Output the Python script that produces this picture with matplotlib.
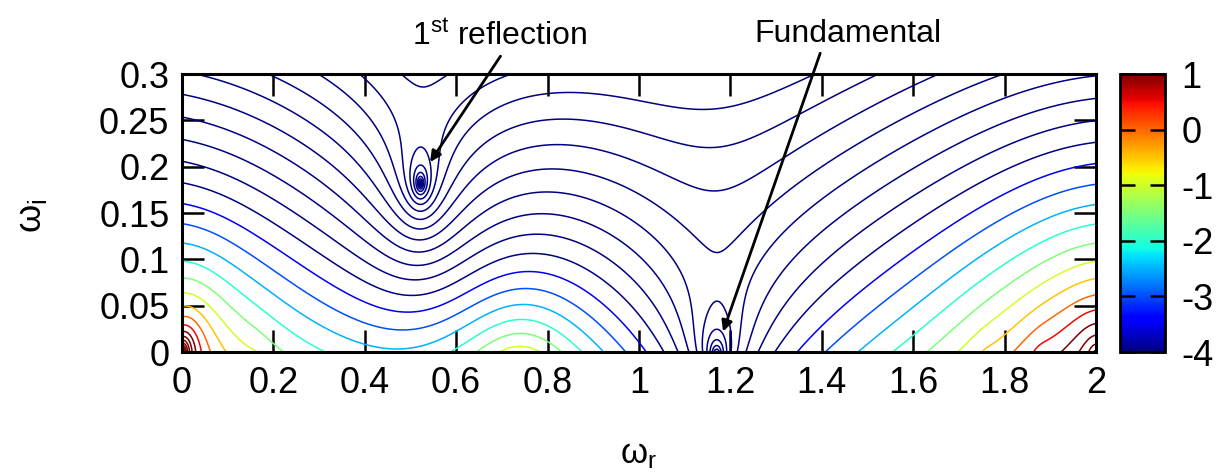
#!/usr/bin/env python
# -*- coding: utf-8 -*-

"""plot.py - Carte de log10|D(w)| dans le plan complexe (w_r, w_i),
avec le mode fondamental et la 1re réflexion."""

# ~~~~~~~~~~~~~~~~~~~~~~~~~ Import des bibliothèques ~~~~~~~~~~~~~~~~~~~~~~~~~ #

import numpy as np
import matplotlib
matplotlib.use("Agg")
import matplotlib.pyplot as plt
from matplotlib.colors import Normalize
from matplotlib.cm import ScalarMappable

# ~~~~~~~~~~~~~~~~~~~~~~~~~~~~~~~~~ Données ~~~~~~~~~~~~~~~~~~~~~~~~~~~~~~~~~~ #

# zéros de D : partie réelle, partie imaginaire, ordre
zeros_wr = [0.522, 1.170, -0.02]
zeros_wi = [0.182, -0.005, -0.02]
zeros_ordre = [2.94, 3.3, 5.0]

# pôles de D (sous l'axe réel)
poles_wr = [0.00, -0.30, 0.16, 0.74, 1.76, 1.88, 2.00, 2.10, 0.00]
poles_wi = [-0.003, -0.10, -0.008, -0.08, -0.008, -0.008, -0.005, -0.15, -0.002]
poles_ordre = [0.87, 4.0, 0.15, 3.8, 0.15, 0.3, 1.2, 3.5, 5.0]

# décroissance de log10|D| avec w_i et pente en w_r
decroissance = 15.0
pente = 0.38

ref_wr, ref_wi, ref_niveau = 0.0, 0.098, -2.0

niveaux = np.arange(-12.0, 8.01, 0.5)
cb_min, cb_max = -4, 1

xticks = [0, 0.2, 0.4, 0.6, 0.8, 1.0, 1.2, 1.4, 1.6, 1.8, 2.0]
xlabels = ["0", "0.2", "0.4", "0.6", "0.8", "1", "1.2", "1.4", "1.6", "1.8", "2"]
yticks = [0, 0.05, 0.1, 0.15, 0.2, 0.25, 0.3]
ylabels = ["0", "0.05", "0.1", "0.15", "0.2", "0.25", "0.3"]
cbticks = [1, 0, -1, -2, -3, -4]
cblabels = ["1", "0", "-1", "-2", "-3", "-4"]

# flèches : (texte, position du texte, point visé)
annot_texte = [r"$\mathregular{1^{st}}$ reflection", "Fundamental"]
annot_xy_texte = [(0.695, 0.340), (1.457, 0.343)]
annot_xy_cible = [(0.543, 0.205), (1.184, 0.022)]
annot_relpos = [(0.52, 0.0), (0.36, 0.0)]


# ~~~~~~~~~~~~~~~~~~~~~~~~~~~~~~~ Calcul de log10|D| ~~~~~~~~~~~~~~~~~~~~~~~~~ #

def log_d(wr, wi):
        z = wr + 1j * wi
        u = -decroissance * wi + pente * wr
        for a, b, m in zip(zeros_wr, zeros_wi, zeros_ordre):
                u = u + m * np.log10(np.maximum(np.abs(z - (a + 1j * b)), 1e-9))
        for a, b, n in zip(poles_wr, poles_wi, poles_ordre):
                u = u - n * np.log10(np.maximum(np.abs(z - (a + 1j * b)), 1e-9))
        return u


wr = np.linspace(0, 2, 1201)
wi = np.linspace(0, 0.3, 721)
WR, WI = np.meshgrid(wr, wi)
U = log_d(WR, WI)
U = U + ref_niveau - log_d(ref_wr, ref_wi)

# ~~~~~~~~~~~~~~~~~~~~~~~~~~~~~~~~~ Graphique ~~~~~~~~~~~~~~~~~~~~~~~~~~~~~~~~ #

plt.rcParams["font.family"] = ["Liberation Sans", "DejaVu Sans"]
plt.rcParams["mathtext.fontset"] = "custom"
plt.rcParams["mathtext.rm"] = "Liberation Sans"
plt.rcParams["axes.unicode_minus"] = False

fig = plt.figure(figsize=(12.32, 4.76), dpi=100)
ax = fig.add_axes([0.1477, 0.2605, 0.7419, 0.5840])
cax = fig.add_axes([0.9091, 0.2605, 0.0365, 0.5840])

norm = Normalize(vmin=cb_min, vmax=cb_max)
ax.contour(WR, WI, U, levels=niveaux, cmap="jet", norm=norm, linewidths=1.1)

ax.set_xlim(0, 2)
ax.set_ylim(0, 0.3)
ax.set_xticks(xticks)
ax.set_xticklabels(xlabels)
ax.set_yticks(yticks)
ax.set_yticklabels(ylabels)
ax.tick_params(direction="in", length=16, width=1.8, labelsize=26,
               top=True, right=True)
ax.tick_params(axis="x", pad=10)
ax.tick_params(axis="y", pad=9)
for s in ax.spines.values():
        s.set_linewidth(2.2)

ax.set_xlabel(r"$\mathregular{ω_r}$", fontsize=25, va="center")
ax.xaxis.set_label_coords(0.5, -0.37)
ax.set_ylabel(r"$\mathregular{ω_i}$", fontsize=26)
ax.yaxis.set_label_coords(-0.145, 0.49)

for t, xy_t, xy_c, rp in zip(annot_texte, annot_xy_texte, annot_xy_cible, annot_relpos):
        ax.annotate(t, xy=xy_c, xytext=xy_t, ha="center", va="center",
                    fontsize=23, annotation_clip=False,
                    arrowprops=dict(arrowstyle="-|>", color="black", lw=2.0,
                                    mutation_scale=16, shrinkA=1, shrinkB=0,
                                    relpos=rp))

# barre de couleur
cb = fig.colorbar(ScalarMappable(norm=norm, cmap="jet"), cax=cax)
cb.set_ticks(cbticks)
cb.set_ticklabels(cblabels)
cb.outline.set_linewidth(2.0)
cax.tick_params(direction="in", length=11, width=1.8, labelsize=26,
                left=True, right=True, pad=12)

fig.savefig("out.png", dpi=100)
